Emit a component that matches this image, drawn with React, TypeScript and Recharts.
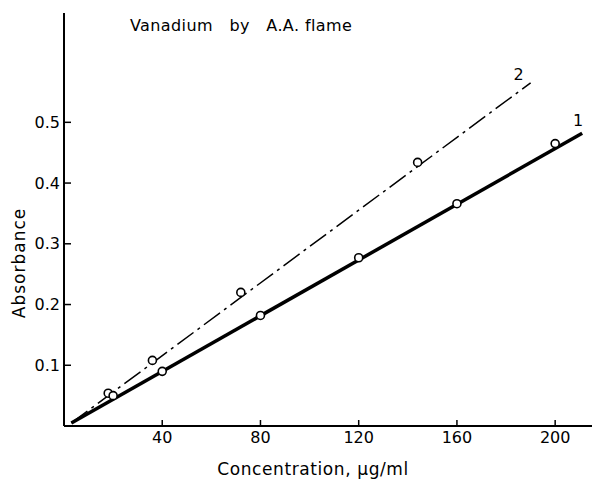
import React from 'react';
import {
  ComposedChart,
  Line,
  Scatter,
  XAxis,
  YAxis,
  ReferenceDot,
} from 'recharts';

// measured points, curve 1 (solid) and curve 2 (dash-dot)
const conc1 = [20, 40, 80, 120, 160, 200];
const abs1 = [0.05, 0.09, 0.182, 0.277, 0.366, 0.465];
const conc2 = [18, 36, 72, 144];
const abs2 = [0.054, 0.108, 0.22, 0.434];

// drawn calibration lines (start / end)
const fit1X = [3, 211];
const fit1Y = [0.005, 0.482];
const fit2X = [3, 190];
const fit2Y = [0.005, 0.565];

const xTicks = [40, 80, 120, 160, 200];
const yTicks = [0.1, 0.2, 0.3, 0.4, 0.5];

const toRows = (xs: number[], ys: number[]) => xs.map((x, i) => ({ x, y: ys[i] }));

const pts1 = toRows(conc1, abs1);
const pts2 = toRows(conc2, abs2);
const line1 = toRows(fit1X, fit1Y);
const line2 = toRows(fit2X, fit2Y);

const font = '"DejaVu Sans", sans-serif';

const OpenCircle = (props: any) => (
  <circle cx={props.cx} cy={props.cy} r={4} fill="#fff" stroke="#000" strokeWidth={1.6} />
);

const App: React.FC = () => {
  return (
    <div style={{ position: 'relative', width: 592, height: 480, background: '#fff', fontFamily: font }}>
      <style>{'body{margin:0}'}</style>
      <div
        style={{
          position: 'absolute',
          left: 130,
          top: 16,
          fontSize: 16,
          letterSpacing: 0.4,
          color: '#000',
          whiteSpace: 'pre',
        }}
      >
        {'Vanadium   by   A.A. flame'}
      </div>
      <ComposedChart width={592} height={480} margin={{ top: 13, right: 0, left: 0, bottom: 0 }}>
        <XAxis
          type="number"
          dataKey="x"
          domain={[0, 215]}
          ticks={xTicks}
          height={54}
          tickSize={-6}
          tickMargin={12}
          axisLine={{ stroke: '#000', strokeWidth: 2 }}
          tickLine={{ stroke: '#000', strokeWidth: 1.5 }}
          tick={{ fill: '#000', fontSize: 16, fontFamily: font }}
          allowDataOverflow
          label={{
            value: 'Concentration, \u03bcg/ml',
            position: 'insideBottom',
            offset: 5,
            fill: '#000',
            fontSize: 17,
            fontFamily: font,
            letterSpacing: 0.6,
            dx: -15,
          }}
        />
        <YAxis
          type="number"
          dataKey="y"
          domain={[0, 0.68]}
          ticks={yTicks}
          width={64}
          tickSize={-7}
          tickMargin={11}
          axisLine={{ stroke: '#000', strokeWidth: 2 }}
          tickLine={{ stroke: '#000', strokeWidth: 1.5 }}
          tick={{ fill: '#000', fontSize: 16, fontFamily: font }}
          allowDataOverflow
          label={{
            content: () => (
              <text
                transform="translate(25,263) rotate(-90)"
                textAnchor="middle"
                fill="#000"
                fontSize={17}
                letterSpacing={1}
                fontFamily={font}
              >
                Absorbance
              </text>
            ),
          }}
        />
        <Line
          data={line2}
          dataKey="y"
          type="linear"
          stroke="#000"
          strokeWidth={1.5}
          strokeDasharray="20 5 3 5"
          dot={false}
          activeDot={false}
          isAnimationActive={false}
        />
        <Line
          data={line1}
          dataKey="y"
          type="linear"
          stroke="#000"
          strokeWidth={3.5}
          dot={false}
          activeDot={false}
          isAnimationActive={false}
        />
        <Scatter data={pts2} dataKey="y" shape={<OpenCircle />} isAnimationActive={false} />
        <Scatter data={pts1} dataKey="y" shape={<OpenCircle />} isAnimationActive={false} />
        <ReferenceDot
          x={fit1X[1]}
          y={fit1Y[1]}
          r={0}
          stroke="none"
          label={{ value: '1', position: 'top', dx: -4, dy: -2, fill: '#000', fontSize: 16, fontFamily: font }}
        />
        <ReferenceDot
          x={fit2X[1]}
          y={fit2Y[1]}
          r={0}
          stroke="none"
          label={{ value: '2', position: 'top', dx: -12, dy: 2, fill: '#000', fontSize: 16, fontFamily: font }}
        />
      </ComposedChart>
    </div>
  );
};

export default App;
